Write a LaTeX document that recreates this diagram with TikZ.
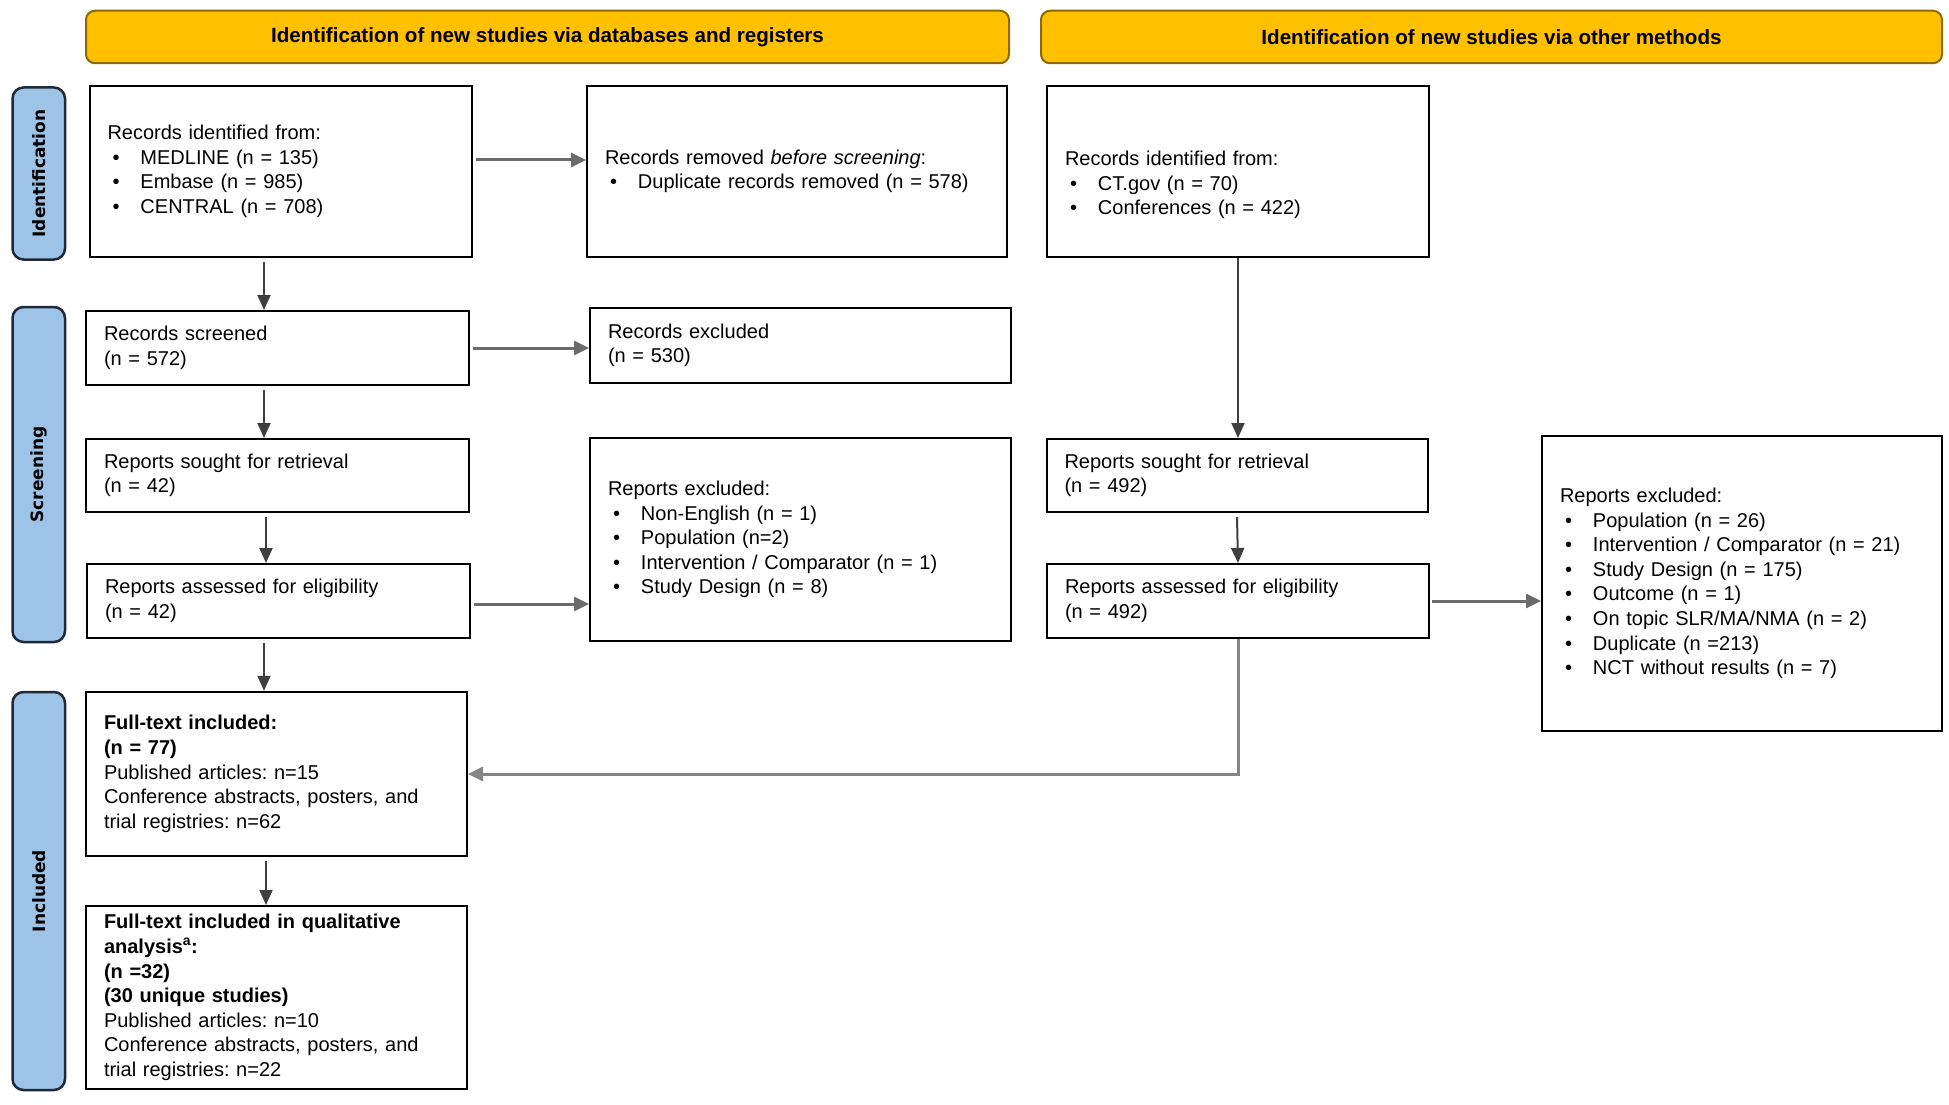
\documentclass[tikz,border=0pt]{standalone}
\usepackage{fontspec}
\setmainfont{Liberation Sans}
\newfontfamily\sidefont{DejaVu Sans}
\usetikzlibrary{arrows.meta,calc}
\definecolor{hdrfill}{HTML}{FFC000}
\definecolor{hdrdraw}{HTML}{8C6A00}
\definecolor{sidefill}{HTML}{9DC3E6}
\definecolor{sidedraw}{HTML}{1F2A36}
\definecolor{varrcol}{HTML}{3F3F3F}
\definecolor{harrcol}{HTML}{6B6B6B}
\definecolor{elbcol}{HTML}{858585}
\newcommand{\bul}{\makebox[33pt][l]{\hspace{5pt}•}}
\frenchspacing
\begin{document}
\begin{tikzpicture}[x=1pt,y=-1pt,
  box/.style n args={3}{draw=black, line width=2pt, fill=white, rectangle,
    minimum width=#1pt, minimum height=#2pt, text width=#3pt,
    inner xsep=18pt, inner ysep=0pt, align=left,
    font=\fontsize{20}{24.6}\selectfont\frenchspacing},
  hdr/.style n args={2}{draw=hdrdraw, line width=2pt, fill=hdrfill,
    rounded corners=9pt, minimum width=#1pt, minimum height=#2pt,
    inner sep=0pt, font=\bfseries\fontsize{20.6}{24}\selectfont},
  side/.style={draw=sidedraw, line width=2.5pt, fill=sidefill,
    rounded corners=11pt, minimum width=#1pt, minimum height=52.5pt,
    inner sep=0pt, rotate=90, font=\sidefont\bfseries\fontsize{17}{17}\selectfont},
  varr/.style={draw=varrcol, line width=2pt, -{Triangle[length=15pt,width=13pt]}},
  harr/.style={draw=harrcol, line width=3pt, -{Triangle[length=15pt,width=14pt]}},
  elb/.style={draw=elbcol, line width=3pt, -{Triangle[length=15pt,width=14pt]}}
]
\useasboundingbox (0,0) rectangle (1949,1105);
\fill[white] (0,0) rectangle (1949,1105);

% headers
\node[hdr={923}{52.5}] (H1) at (547.5,37) {Identification of new studies via databases and registers};
\node[hdr={901}{52.5}] (H2) at (1491.5,37) {Identification of new studies via other methods};

% side labels
\node[side=172] (S1) at (38.75,173.5) {Identification};
\node[side=335] (S2) at (38.75,474.5) {Screening};
\node[side=398] (S3) at (38.75,891) {Included};

% boxes
\node[box={382.5}{171}{346.5}] (A) at (280.75,171.5) {Records identified from:\\
\bul MEDLINE (n = 135)\\
\bul Embase (n = 985)\\
\bul CENTRAL (n = 708)};
\node[box={420}{171}{384}] (B) at (797,171.5) {Records removed \textit{before screening}:\\
\bul Duplicate records removed (n = 578)};
\node[box={382}{171}{346}] (C) at (1238,171.5) {\strut\\Records identified from:\\
\bul CT.gov (n = 70)\\
\bul Conferences (n = 422)};
\node[box={383}{74}{347}] (D) at (277.5,348) {Records screened\\(n = 572)};
\node[box={421}{75}{385}] (E) at (800.5,345.5) {Records excluded\\(n = 530)};
\node[box={383}{73}{347}] (F) at (277.5,475.5) {Reports sought for retrieval\\(n = 42)};
\node[box={421}{203.5}{385}] (G) at (800.5,539.5) {Reports excluded:\\
\bul Non-English (n = 1)\\
\bul Population (n=2)\\
\bul Intervention / Comparator (n = 1)\\
\bul Study Design (n = 8)};
\node[box={383}{74}{347}] (H) at (278.5,601) {Reports assessed for eligibility\\(n = 42)};
\node[box={381}{73}{345}] (I) at (1237,475.5) {Reports sought for retrieval\\(n = 492)};
\node[box={382}{74}{346}] (J) at (1238,601) {Reports assessed for eligibility\\(n = 492)};
\node[box={400}{295}{364}] (K) at (1742,583.5) {Reports excluded:\\
\bul Population (n = 26)\\
\bul Intervention / Comparator (n = 21)\\
\bul Study Design (n = 175)\\
\bul Outcome (n = 1)\\
\bul On topic SLR/MA/NMA (n = 2)\\
\bul Duplicate (n =213)\\
\bul NCT without results (n = 7)};
\node[box={381}{164.5}{345}] (L) at (276.5,774) {\textbf{Full-text included:}\\
\textbf{(n = 77)}\\
Published articles: n=15\\
Conference abstracts, posters, and\\
trial registries: n=62};
\node[box={381}{183}{345}] (M) at (276.5,997.5) {\textbf{Full-text included in qualitative}\\
\textbf{analysis\textsuperscript{a}:}\\
\textbf{(n =32)}\\
\textbf{(30 unique studies)}\\
Published articles: n=10\\
Conference abstracts, posters, and\\
trial registries: n=22};

% helper coordinates
\coordinate (colA) at (264,0);
\coordinate (colB) at (266,0);
\coordinate (yAB) at (0,160);
\coordinate (yHG) at (0,604);

% connectors
\draw[varr] ([yshift=-4pt]A.south -| colA) -- (D.north -| colA);
\draw[varr] ([yshift=-4pt]D.south -| colA) -- (F.north -| colA);
\draw[varr] ([yshift=-4pt]F.south -| colB) -- (H.north -| colB);
\draw[varr] ([yshift=-4pt]H.south -| colA) -- (L.north -| colA);
\draw[varr] ([yshift=-4pt]L.south -| colB) -- (M.north -| colB);
\draw[harr] ([xshift=3pt]A.east |- yAB) -- (B.west |- yAB);
\draw[harr] ([xshift=3pt]D.east) -- (E.west |- D.east);
\draw[harr] ([xshift=3pt]H.east |- yHG) -- (G.west |- yHG);
\draw[varr] (C.south) -- (C.south |- I.north);
\draw[varr] ([yshift=-4pt]I.south) -- (J.north);
\draw[harr] ([xshift=2pt]J.east) -- (K.west |- J.east);
\draw[elb] (J.south) |- (L.east);
\end{tikzpicture}
\end{document}
